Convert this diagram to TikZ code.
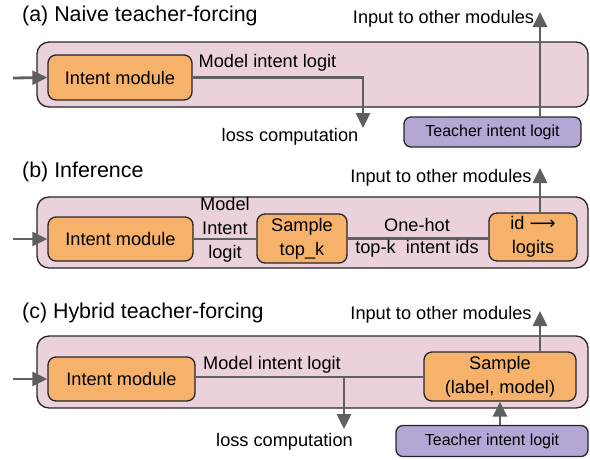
\documentclass[tikz,border=0pt]{standalone}
\usepackage{fontspec}
\setmainfont{Liberation Sans}
\newfontfamily\symfont{DejaVu Sans}
\usetikzlibrary{arrows.meta}
\definecolor{panelfill}{HTML}{EAD1DC}
\definecolor{modfill}{HTML}{F6B26B}
\definecolor{teachfill}{HTML}{B4A7D6}
\definecolor{edgecol}{HTML}{262626}
\definecolor{wirecol}{HTML}{5F5F5F}
\tikzset{
  panel/.style={draw=edgecol, line width=1.3pt, fill=panelfill, rounded corners=12pt, inner sep=0pt},
  modbox/.style={draw=edgecol, line width=1.3pt, fill=modfill, rounded corners=8pt, inner sep=0pt, align=center, font=\fontsize{18.2}{24}\selectfont},
  teachbox/.style={draw=edgecol, line width=1.3pt, fill=teachfill, rounded corners=7pt, inner sep=0pt, font=\fontsize{16}{19}\selectfont},
  lbl/.style={inner sep=0pt, align=center, font=\fontsize{18.2}{24}\selectfont},
  ttl/.style={inner sep=0pt, anchor=west, font=\fontsize{21.4}{24}\selectfont},
  wire/.style={draw=wirecol, line width=2.8pt},
  arr/.style={wire, -{Triangle[length=15pt,width=14pt]}},
}
\begin{document}
\begin{tikzpicture}[x=1pt, y=-1pt]
\useasboundingbox (0,0) rectangle (590,459);

% ---------------- (a) Naive teacher-forcing ----------------
\node[ttl] (ta) at (22,16) {(a) Naive teacher-forcing};
\node[panel, minimum width=551pt, minimum height=65pt] (pa) at (312.5,74.5) {};
\node[modbox, minimum width=144pt, minimum height=45pt] (ia) at (120,77.5) {Intent module};
\node[teachbox, minimum width=177pt, minimum height=30pt] (tca) at (492.5,132) {Teacher intent logit};
\coordinate (ina) at (13,78);
\coordinate (lossa) at (363,128);
\coordinate (outa) at (540,12);
\draw[arr] (ina) -- (ia.west);
\draw[arr] (ia.east) -| (lossa);
\node[lbl] (mla) at (267.5,63) {Model intent logit};
\node[lbl] (la) at (290,137) {loss computation};
\draw[arr] (tca.north -| outa) -- (outa);
\node[lbl] (oa) at (443.5,19) {Input to other modules};

% ---------------- (b) Inference ----------------
\node[ttl] (tb) at (22,172) {(b) Inference};
\node[panel, minimum width=551pt, minimum height=71pt] (pb) at (312.5,232.5) {};
\node[modbox, minimum width=145pt, minimum height=44pt] (ib) at (120.5,239) {Intent module};
\node[modbox, minimum width=90pt, minimum height=49pt] (sb) at (302,238.5) {Sample\\top\_k};
\node[modbox, minimum width=88pt, minimum height=48pt] (idb) at (533,237) {id {\symfont ⟶}\\logits};
\coordinate (inb) at (13,239);
\coordinate (outb) at (540,168);
\draw[arr] (inb) -- (ib.west);
\draw[wire] (ib.east) -- (ib.east -| sb.west);
\draw[wire] (sb.east) -- (sb.east -| idb.west);
\node[lbl] (mlb) at (225,230) {Model\\Intent\\logit};
\node[lbl] (ohb) at (417,225) {One-hot};
\node[lbl] (tkb) at (417,249) {top-k\ \ intent ids};
\draw[arr] (idb.north -| outb) -- (outb);
\node[lbl] (ob) at (441,178) {Input to other modules};

% ---------------- (c) Hybrid teacher-forcing ----------------
\node[ttl] (tc) at (22,313) {(c) Hybrid teacher-forcing};
\node[panel, minimum width=551pt, minimum height=72pt] (pc) at (312.5,372) {};
\node[modbox, minimum width=147pt, minimum height=44pt] (ic) at (121.5,379) {Intent module};
\node[modbox, minimum width=152pt, minimum height=49pt] (sc) at (500,376.5) {Sample\\(label, model)};
\node[teachbox, minimum width=192pt, minimum height=31pt] (tcc) at (492,441) {Teacher intent logit};
\coordinate (inc) at (13,379);
\coordinate (lossc) at (344,429);
\coordinate (outc) at (540,311);
\coordinate (tapc) at (344,377);
\draw[arr] (inc) -- (ic.west);
\draw[wire] (ic.east |- tapc) -- (sc.west |- tapc);
\draw[arr] (tapc) -- (lossc);
\node[lbl] (mlc) at (272,365) {Model intent logit};
\node[lbl] (lc) at (284.5,442) {loss computation};
\draw[arr] (sc.north -| outc) -- (outc);
\node[lbl] (oc) at (441,315) {Input to other modules};
\draw[arr] (tcc.north -| 500,0) -- (sc.south -| 500,0);
\end{tikzpicture}
\end{document}
